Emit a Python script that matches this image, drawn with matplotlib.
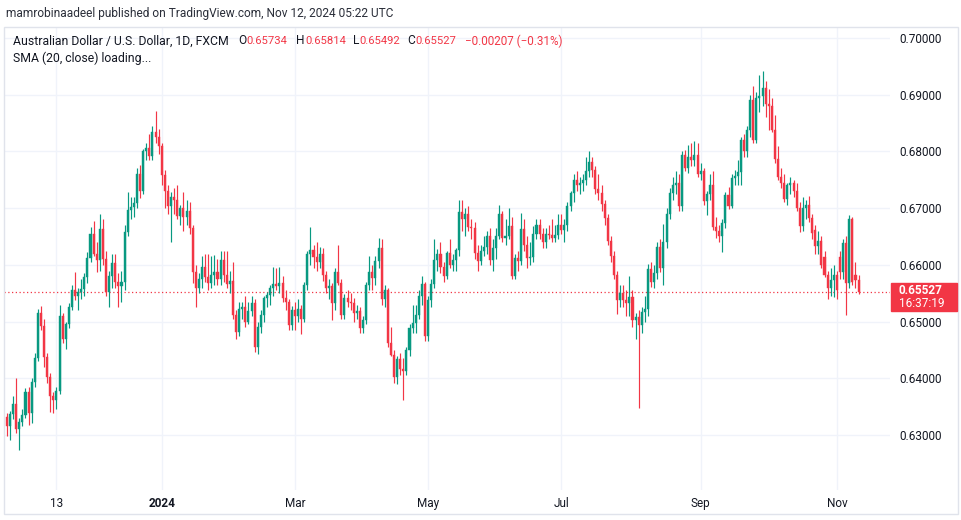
import matplotlib
matplotlib.use("Agg")
import matplotlib.pyplot as plt
from matplotlib.patches import Rectangle
import pandas as pd
import numpy as np

# ---------------- data (AUD/USD daily, FXCM) ----------------
opens = [
    0.6331, 0.6315, 0.6337, 0.6355, 0.6310, 0.6323, 0.6335, 0.6375,
    0.6338, 0.6394, 0.6435, 0.6515, 0.6492, 0.6438, 0.6402, 0.6368, 0.6362, 0.6378, 0.6509, 0.6470, 0.6495, 0.6525, 0.6555, 0.6545, 0.6552, 0.6558, 0.6578, 0.6612, 0.6655, 0.6620,
    0.6608, 0.6664, 0.6610, 0.6552, 0.6580, 0.6603, 0.6570, 0.6562, 0.6570, 0.6658, 0.6697, 0.6702, 0.6709, 0.6761, 0.6730, 0.6800, 0.6806, 0.6792, 0.6835, 0.6826,
    0.6809, 0.6759, 0.6730, 0.6703, 0.6720, 0.6715, 0.6686, 0.6700, 0.6685, 0.6695, 0.6665, 0.6588, 0.6560, 0.6575, 0.6597, 0.6579, 0.6568, 0.6582, 0.6588, 0.6575, 0.6609, 0.6582,
    0.6566, 0.6572, 0.6512, 0.6482, 0.6523, 0.6526, 0.6500, 0.6518, 0.6532, 0.6456, 0.6491, 0.6512, 0.6541, 0.6547, 0.6559, 0.6567, 0.6562, 0.6568, 0.6541, 0.6535, 0.6494,
    0.6520, 0.6509, 0.6523, 0.6505, 0.6564, 0.6620, 0.6626, 0.6614, 0.6605, 0.6620, 0.6582, 0.6559, 0.6562, 0.6532, 0.6588, 0.6568, 0.6512, 0.6541, 0.6535, 0.6532, 0.6515,
    0.6518, 0.6488, 0.6503, 0.6565, 0.6588, 0.6576, 0.6606, 0.6629, 0.6540, 0.6555, 0.6462, 0.6441, 0.6403, 0.6434, 0.6416, 0.6412, 0.6450, 0.6488, 0.6497, 0.6512, 0.6545, 0.6567,
    0.6475, 0.6538, 0.6567, 0.6609, 0.6620, 0.6597, 0.6580, 0.6621, 0.6600, 0.6609, 0.6626, 0.6694, 0.6680, 0.6690, 0.6667, 0.6665, 0.6621, 0.6606, 0.6624, 0.6632, 0.6650, 0.6609, 0.6630,
    0.6650, 0.6690, 0.6647, 0.6650, 0.6668, 0.6580, 0.6612, 0.6606, 0.6664, 0.6635, 0.6612, 0.6614, 0.6655, 0.6670, 0.6655, 0.6641, 0.6655, 0.6652, 0.6648, 0.6652,
    0.6670, 0.6662, 0.6670, 0.6703, 0.6726, 0.6750, 0.6740, 0.6745, 0.6750, 0.6765, 0.6782, 0.6768, 0.6733, 0.6726, 0.6707, 0.6683, 0.6642, 0.6615, 0.6582, 0.6538, 0.6550, 0.6538, 0.6532,
    0.6544, 0.6503, 0.6508, 0.6494, 0.6517, 0.6522, 0.6592, 0.6569, 0.6585, 0.6632, 0.6594, 0.6640, 0.6690, 0.6726, 0.6741, 0.6745, 0.6703, 0.6794, 0.6770, 0.6791, 0.6785, 0.6794,
    0.6761, 0.6765, 0.6712, 0.6725, 0.6741, 0.6667, 0.6660, 0.6651, 0.6673, 0.6723, 0.6703, 0.6753, 0.6756, 0.6764, 0.6820, 0.6800, 0.6838, 0.6891, 0.6820, 0.6894, 0.6898,
    0.6912, 0.6883, 0.6880, 0.6838, 0.6787, 0.6755, 0.6745, 0.6716, 0.6740, 0.6745, 0.6730, 0.6700, 0.6668, 0.6700, 0.6705, 0.6683, 0.6662, 0.6633, 0.6642, 0.6614, 0.6582, 0.6559, 0.6573,
    0.6582, 0.6614, 0.6588, 0.6638, 0.6568, 0.6680, 0.6582, 0.65734,
]
highs = [
    0.6338, 0.6342, 0.6368, 0.6400, 0.6330, 0.6345, 0.6383, 0.6385,
    0.6400, 0.6445, 0.6522, 0.6528, 0.6505, 0.6445, 0.6410, 0.6375, 0.6385, 0.6530, 0.6515, 0.6500, 0.6532, 0.6565, 0.6588, 0.6560, 0.6575, 0.6585, 0.6622, 0.6667, 0.6678, 0.6640,
    0.6690, 0.6680, 0.6625, 0.6590, 0.6620, 0.6620, 0.6585, 0.6590, 0.6670, 0.6728, 0.6720, 0.6720, 0.6770, 0.6776, 0.6805, 0.6815, 0.6830, 0.6845, 0.6871, 0.6840,
    0.6815, 0.6768, 0.6740, 0.6728, 0.6735, 0.6740, 0.6705, 0.6728, 0.6715, 0.6710, 0.6670, 0.6600, 0.6585, 0.6615, 0.6620, 0.6620, 0.6615, 0.6618, 0.6610, 0.6625, 0.6625, 0.6625,
    0.6590, 0.6605, 0.6520, 0.6535, 0.6535, 0.6545, 0.6535, 0.6545, 0.6540, 0.6500, 0.6520, 0.6545, 0.6552, 0.6565, 0.6597, 0.6595, 0.6597, 0.6580, 0.6555, 0.6540, 0.6528,
    0.6535, 0.6540, 0.6530, 0.6570, 0.6625, 0.6667, 0.6635, 0.6640, 0.6632, 0.6630, 0.6590, 0.6575, 0.6568, 0.6595, 0.6635, 0.6575, 0.6548, 0.6555, 0.6550, 0.6542, 0.6530,
    0.6525, 0.6510, 0.6570, 0.6615, 0.6600, 0.6615, 0.6647, 0.6645, 0.6565, 0.6560, 0.6490, 0.6450, 0.6440, 0.6445, 0.6435, 0.6455, 0.6495, 0.6530, 0.6530, 0.6555, 0.6580, 0.6570,
    0.6545, 0.6575, 0.6645, 0.6628, 0.6640, 0.6605, 0.6625, 0.6645, 0.6620, 0.6630, 0.6714, 0.6714, 0.6700, 0.6703, 0.6680, 0.6675, 0.6635, 0.6635, 0.6650, 0.6660, 0.6665, 0.6645, 0.6665,
    0.6705, 0.6695, 0.6680, 0.6700, 0.6685, 0.6620, 0.6625, 0.6692, 0.6680, 0.6650, 0.6640, 0.6668, 0.6680, 0.6680, 0.6665, 0.6665, 0.6670, 0.6680, 0.6670, 0.6690,
    0.6690, 0.6680, 0.6710, 0.6730, 0.6760, 0.6765, 0.6755, 0.6760, 0.6790, 0.6800, 0.6790, 0.6775, 0.6760, 0.6740, 0.6715, 0.6690, 0.6650, 0.6625, 0.6590, 0.6565, 0.6565, 0.6555, 0.6580,
    0.6556, 0.6515, 0.6520, 0.6525, 0.6545, 0.6602, 0.6605, 0.6600, 0.6640, 0.6645, 0.6672, 0.6700, 0.6735, 0.6755, 0.6765, 0.6760, 0.6800, 0.6803, 0.6812, 0.6815, 0.6818, 0.6815,
    0.6780, 0.6770, 0.6730, 0.6760, 0.6765, 0.6685, 0.6670, 0.6680, 0.6728, 0.6738, 0.6760, 0.6768, 0.6785, 0.6825, 0.6830, 0.6845, 0.6900, 0.6915, 0.6905, 0.6935, 0.6942,
    0.6925, 0.6910, 0.6895, 0.6865, 0.6810, 0.6770, 0.6760, 0.6745, 0.6755, 0.6750, 0.6745, 0.6710, 0.6720, 0.6715, 0.6722, 0.6690, 0.6670, 0.6660, 0.6650, 0.6625, 0.6590, 0.6595, 0.6600,
    0.6590, 0.6625, 0.6645, 0.6650, 0.6688, 0.6685, 0.6605, 0.65814,
]
lows = [
    0.6299, 0.6292, 0.6328, 0.6303, 0.6273, 0.6315, 0.6330, 0.6318,
    0.6322, 0.6385, 0.6430, 0.6485, 0.6420, 0.6392, 0.6341, 0.6338, 0.6345, 0.6372, 0.6462, 0.6452, 0.6488, 0.6520, 0.6538, 0.6520, 0.6540, 0.6545, 0.6568, 0.6605, 0.6615, 0.6588,
    0.6590, 0.6600, 0.6545, 0.6525, 0.6560, 0.6560, 0.6525, 0.6535, 0.6555, 0.6650, 0.6680, 0.6685, 0.6700, 0.6718, 0.6725, 0.6785, 0.6785, 0.6785, 0.6815, 0.6795,
    0.6741, 0.6700, 0.6690, 0.6641, 0.6690, 0.6680, 0.6670, 0.6660, 0.6670, 0.6655, 0.6568, 0.6525, 0.6550, 0.6560, 0.6570, 0.6555, 0.6560, 0.6565, 0.6565, 0.6565, 0.6570, 0.6560,
    0.6550, 0.6505, 0.6470, 0.6475, 0.6505, 0.6490, 0.6495, 0.6510, 0.6447, 0.6443, 0.6480, 0.6500, 0.6525, 0.6530, 0.6545, 0.6555, 0.6550, 0.6535, 0.6520, 0.6485, 0.6485,
    0.6485, 0.6500, 0.6478, 0.6500, 0.6555, 0.6600, 0.6595, 0.6590, 0.6595, 0.6572, 0.6550, 0.6540, 0.6503, 0.6520, 0.6565, 0.6505, 0.6505, 0.6525, 0.6520, 0.6500, 0.6505,
    0.6480, 0.6480, 0.6495, 0.6555, 0.6555, 0.6565, 0.6595, 0.6530, 0.6525, 0.6455, 0.6440, 0.6391, 0.6390, 0.6405, 0.6362, 0.6405, 0.6440, 0.6480, 0.6480, 0.6505, 0.6530, 0.6465,
    0.6465, 0.6525, 0.6560, 0.6590, 0.6585, 0.6570, 0.6575, 0.6595, 0.6590, 0.6590, 0.6615, 0.6660, 0.6650, 0.6660, 0.6645, 0.6610, 0.6590, 0.6600, 0.6615, 0.6620, 0.6600, 0.6590, 0.6610,
    0.6645, 0.6640, 0.6635, 0.6645, 0.6575, 0.6575, 0.6590, 0.6600, 0.6625, 0.6594, 0.6600, 0.6605, 0.6645, 0.6645, 0.6630, 0.6630, 0.6645, 0.6640, 0.6640, 0.6645,
    0.6655, 0.6640, 0.6660, 0.6695, 0.6710, 0.6730, 0.6725, 0.6730, 0.6740, 0.6755, 0.6755, 0.6725, 0.6715, 0.6695, 0.6670, 0.6635, 0.6605, 0.6575, 0.6514, 0.6525, 0.6525, 0.6510, 0.6510,
    0.6490, 0.6470, 0.6348, 0.6480, 0.6500, 0.6510, 0.6561, 0.6560, 0.6575, 0.6588, 0.6565, 0.6630, 0.6680, 0.6715, 0.6725, 0.6695, 0.6695, 0.6765, 0.6762, 0.6775, 0.6775, 0.6755,
    0.6750, 0.6705, 0.6688, 0.6715, 0.6662, 0.6647, 0.6640, 0.6623, 0.6665, 0.6698, 0.6700, 0.6740, 0.6740, 0.6740, 0.6790, 0.6790, 0.6825, 0.6815, 0.6815, 0.6870, 0.6880,
    0.6860, 0.6838, 0.6835, 0.6780, 0.6750, 0.6735, 0.6710, 0.6705, 0.6725, 0.6720, 0.6695, 0.6658, 0.6660, 0.6680, 0.6675, 0.6645, 0.6620, 0.6620, 0.6595, 0.6578, 0.6540, 0.6545, 0.6543,
    0.6540, 0.6575, 0.6575, 0.6512, 0.6560, 0.6565, 0.6560, 0.65492,
]
closes = [
    0.6315, 0.6337, 0.6355, 0.6310, 0.6323, 0.6335, 0.6375, 0.6338,
    0.6394, 0.6435, 0.6515, 0.6492, 0.6438, 0.6402, 0.6368, 0.6362, 0.6378, 0.6509, 0.6470, 0.6495, 0.6525, 0.6555, 0.6545, 0.6552, 0.6558, 0.6578, 0.6612, 0.6655, 0.6620, 0.6608,
    0.6664, 0.6610, 0.6552, 0.6580, 0.6603, 0.6570, 0.6562, 0.6570, 0.6658, 0.6697, 0.6702, 0.6709, 0.6761, 0.6730, 0.6800, 0.6806, 0.6792, 0.6835, 0.6826, 0.6809,
    0.6759, 0.6730, 0.6703, 0.6720, 0.6715, 0.6686, 0.6700, 0.6685, 0.6695, 0.6665, 0.6588, 0.6560, 0.6575, 0.6597, 0.6579, 0.6568, 0.6582, 0.6588, 0.6575, 0.6609, 0.6582, 0.6566,
    0.6572, 0.6512, 0.6482, 0.6523, 0.6526, 0.6500, 0.6518, 0.6532, 0.6456, 0.6491, 0.6512, 0.6541, 0.6547, 0.6559, 0.6567, 0.6562, 0.6568, 0.6541, 0.6535, 0.6494, 0.6520,
    0.6509, 0.6523, 0.6505, 0.6564, 0.6620, 0.6626, 0.6614, 0.6605, 0.6620, 0.6582, 0.6559, 0.6562, 0.6532, 0.6588, 0.6568, 0.6512, 0.6541, 0.6535, 0.6532, 0.6515, 0.6518,
    0.6488, 0.6503, 0.6565, 0.6588, 0.6576, 0.6606, 0.6629, 0.6540, 0.6555, 0.6462, 0.6441, 0.6403, 0.6434, 0.6416, 0.6412, 0.6450, 0.6488, 0.6497, 0.6512, 0.6545, 0.6567, 0.6475,
    0.6538, 0.6567, 0.6609, 0.6620, 0.6597, 0.6580, 0.6621, 0.6600, 0.6609, 0.6626, 0.6694, 0.6680, 0.6690, 0.6667, 0.6665, 0.6621, 0.6606, 0.6624, 0.6632, 0.6650, 0.6609, 0.6630, 0.6650,
    0.6690, 0.6647, 0.6650, 0.6668, 0.6580, 0.6612, 0.6606, 0.6664, 0.6635, 0.6612, 0.6614, 0.6655, 0.6670, 0.6655, 0.6641, 0.6655, 0.6652, 0.6648, 0.6652, 0.6670,
    0.6662, 0.6670, 0.6703, 0.6726, 0.6750, 0.6740, 0.6745, 0.6750, 0.6765, 0.6782, 0.6768, 0.6733, 0.6726, 0.6707, 0.6683, 0.6642, 0.6615, 0.6582, 0.6538, 0.6550, 0.6538, 0.6532, 0.6544,
    0.6503, 0.6508, 0.6494, 0.6517, 0.6522, 0.6592, 0.6569, 0.6585, 0.6632, 0.6594, 0.6640, 0.6690, 0.6726, 0.6741, 0.6745, 0.6703, 0.6794, 0.6770, 0.6791, 0.6785, 0.6794, 0.6761,
    0.6765, 0.6712, 0.6725, 0.6741, 0.6667, 0.6660, 0.6651, 0.6673, 0.6723, 0.6703, 0.6753, 0.6756, 0.6764, 0.6820, 0.6800, 0.6838, 0.6891, 0.6820, 0.6894, 0.6898, 0.6912,
    0.6883, 0.6880, 0.6838, 0.6787, 0.6755, 0.6745, 0.6716, 0.6740, 0.6745, 0.6730, 0.6700, 0.6668, 0.6700, 0.6705, 0.6683, 0.6656, 0.6633, 0.6642, 0.6599, 0.6582, 0.6559, 0.6573, 0.6582,
    0.6556, 0.6588, 0.6638, 0.6568, 0.6680, 0.6570, 0.6574, 0.65527,
]

holidays = ["2023-12-25", "2024-01-01"]
dates = pd.bdate_range("2023-10-20", "2024-11-12")
dates = dates[~dates.isin(pd.to_datetime(holidays))]

tick_dates = ["2023-11-13", "2024-01-02", "2024-03-01", "2024-05-01",
              "2024-07-01", "2024-09-02", "2024-11-01"]
tick_labels = ["13", "2024", "Mar", "May", "Jul", "Sep", "Nov"]
price_ticks = [0.63, 0.64, 0.65, 0.66, 0.67, 0.68, 0.69, 0.70]

last_price = 0.65527
countdown = "16:37:19"
header = "mamrobinaadeel published on TradingView.com, Nov 12, 2024 05:22 UTC"
symbol = "Australian Dollar / U.S. Dollar, 1D, FXCM"
ohlc_keys = ["O", "H", "L", "C"]
ohlc_vals = ["0.65734", "0.65814", "0.65492", "0.65527"]
change_text = "\u22120.00207 (\u22120.31%)"
indicator = "SMA (20, close) loading..."

n = len(dates)
assert len(opens) == len(highs) == len(lows) == len(closes) == n

# ---------------- styling ----------------
W, H = 962, 520
UP, DOWN = "#089981", "#f23645"
TEXT = "#131722"
GRID = "#f0f3fa"
plt.rcParams["font.family"] = ["Roboto", "DejaVu Sans"]

fig = plt.figure(figsize=(W / 100, H / 100), dpi=100)
fig.patch.set_facecolor("white")
renderer = fig.canvas.get_renderer()

def fx(px):
    return px / W

def fy(py):
    return 1 - py / H

# pane in pixels
L_, R_, T_, B_ = 4, 890, 27, 490
ax = fig.add_axes([fx(L_), fy(B_), fx(R_ - L_), (B_ - T_) / H])
ax.set_facecolor("white")

step = 3.097          # pixels per bar
x0 = 6.9              # pixel of first bar
ax.set_xlim((L_ - x0) / step, (R_ - x0) / step)
ppx = 0.01 / 56.71    # price per pixel
ax.set_ylim(0.63 - (B_ - 435) * ppx, 0.70 + (38 - T_) * ppx)

idx = np.arange(n)
o = np.array(opens); h = np.array(highs); l = np.array(lows); c = np.array(closes)
up = c >= o
cols = np.where(up, UP, DOWN)

# wicks
ax.vlines(idx, np.minimum(l, np.minimum(o, c)), np.maximum(h, np.maximum(o, c)),
          colors=cols, linewidth=0.85, zorder=3)
# bodies
body_lo = np.minimum(o, c)
body_h = np.maximum(np.abs(c - o), 0.6 * ppx)
ax.bar(idx, body_h, bottom=body_lo, width=0.66, color=cols, edgecolor=cols,
       linewidth=0.3, zorder=4)

# grid
for p in price_ticks:
    ax.axhline(p, color=GRID, linewidth=1.0, zorder=0)
tick_pos = [int(np.where(dates == pd.Timestamp(d))[0][0]) for d in tick_dates]
for t in tick_pos:
    ax.axvline(t, color=GRID, linewidth=1.0, zorder=0)

# last price dotted line
ax.axhline(last_price, color=DOWN, linewidth=0.9, linestyle=(0, (1, 2)), zorder=2)

for s in ax.spines.values():
    s.set_visible(False)

ax.yaxis.tick_right()
ax.set_yticks(price_ticks)
ax.set_yticklabels([f"{p:.5f}" for p in price_ticks])
ax.tick_params(axis="y", length=0, pad=(899 - R_) * 0.72, labelsize=8.5, colors=TEXT)
ax.set_xticks(tick_pos)
ax.set_xticklabels(tick_labels)
ax.tick_params(axis="x", length=0, pad=(503 - B_) * 0.72 - 4, labelsize=8.5, colors=TEXT)
for lab in ax.get_xticklabels():
    if lab.get_text() == "2024":
        lab.set_fontweight("bold")

# outer frame
fig.add_artist(Rectangle((fx(4), fy(514)), fx(954), (514 - 27) / H, transform=fig.transFigure,
                         fill=False, edgecolor="#e0e3eb", linewidth=1.0, zorder=10))

# header
fig.text(fx(6), fy(14), header, fontsize=8.6, color="#2a2e39", va="center", ha="left")

# legend line
ly = 41
fig.text(fx(13), fy(ly), symbol, fontsize=8.8, color=TEXT, va="center", ha="left")
key_x = [238, 296, 353, 407]
for k, v, xx in zip(ohlc_keys, ohlc_vals, key_x):
    tk = fig.text(fx(xx), fy(ly), k, fontsize=8.6, color=TEXT, va="center", ha="left")
    wk = tk.get_window_extent(renderer).width
    fig.text(fx(xx + wk + 0.5), fy(ly), v, fontsize=8.1, color=DOWN, va="center", ha="left")
fig.text(fx(465), fy(ly), change_text, fontsize=8.4, color=DOWN, va="center", ha="left")
fig.text(fx(13), fy(58), indicator, fontsize=8.8, color=TEXT, va="center", ha="left")

# price label box
fig.add_artist(Rectangle((fx(891), fy(311)), fx(66), 28 / H, transform=fig.transFigure,
                         facecolor=DOWN, edgecolor=DOWN, zorder=11))
fig.text(fx(899), fy(291), f"{last_price:.5f}", fontsize=8.5, color="white",
         fontweight="bold", va="center", ha="left", zorder=12)
fig.text(fx(899), fy(303.5), countdown, fontsize=8.5, color="white",
         va="center", ha="left", zorder=12)

fig.savefig("out.png", dpi=100, facecolor="white")
